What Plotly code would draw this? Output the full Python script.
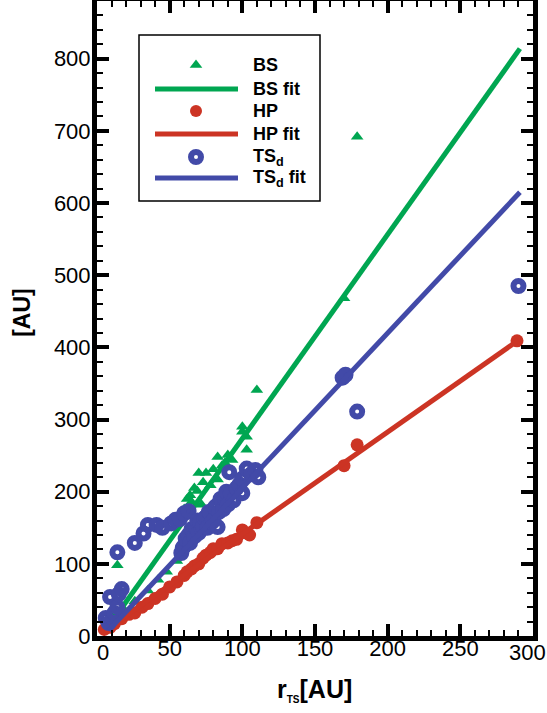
import plotly.graph_objects as go

# ---- bow shock (BS) stand-off vs. termination-shock radius ----
bs_x = [10, 14, 18, 26, 35, 42, 48, 55, 60, 62, 64, 65, 67, 69, 70, 72, 73, 75,
        78, 80, 83, 83, 86, 88, 90, 93, 100, 100, 103, 103, 110, 170, 179]
bs_y = [28, 98, 38, 48, 63, 78, 89, 104, 176, 190, 195, 186, 205, 201, 226, 182, 213, 226,
        209, 231, 248, 217, 236, 240, 251, 244, 290, 283, 276, 258, 341, 468, 692]
bs_fit_x = [10, 291]
bs_fit_y = [19, 814]

# ---- heliopause (HP) ----
hp_x = [5, 9, 12, 17, 22, 26, 31, 35, 40, 45, 50, 55, 60, 62, 65, 67, 70, 73, 75,
        78, 80, 83, 86, 90, 93, 96, 100, 102, 105, 110, 170, 179, 289]
hp_y = [9, 12, 17, 24, 30, 32, 40, 45, 52, 58, 68, 75, 84, 89, 93, 97, 100, 108, 112,
        116, 121, 121, 128, 129, 132, 134, 147, 143, 140, 157, 236, 265, 409]
hp_fit_x = [5, 290]
hp_fit_y = [7, 410]

# ---- downstream termination shock (TS_d) ----
ts_x = [6, 8, 9, 12, 14, 15, 17,
        14, 26, 32, 35, 41, 45, 51, 54, 57, 60, 63,
        58, 59, 60, 61, 62, 63, 64, 65, 66, 67, 68, 69, 70, 71, 72, 73, 74, 75, 76,
        77, 78, 79, 80, 81, 82, 83, 84, 85, 86, 87, 88, 89, 90, 92, 94, 96, 98, 100,
        91, 100, 103, 106, 109, 111,
        169, 171, 179, 290]
ts_y = [25, 18, 54, 32, 40, 58, 65,
        116, 129, 142, 154, 154, 150, 156, 161, 162, 170, 173,
        115, 122, 125, 135, 132, 140, 129, 148, 145, 138, 150, 160, 143, 158, 148, 152, 163, 165,
        150, 172, 170, 158, 160, 178, 180, 151, 172, 190, 185, 176, 190, 200, 182, 198, 188,
        205, 210, 198,
        227, 218, 232, 224, 230, 220,
        358, 362, 311, 485]
ts_fit_x = [8, 291]
ts_fit_y = [8, 615]

# x tick labels; the two end labels are set separately, pulled in from the frame corners
x_tickvals = [0, 50, 100, 150, 200, 250, 300]
x_ticktext = ["", "50", "100", "150", "200", "250", ""]
x_end_labels = [(0, "0", 6), (300, "300", -6)]

GREEN = "rgb(0,166,81)"
RED = "rgb(204,52,36)"
BLUE = "rgb(66,74,168)"

fig = go.Figure()

fig.add_trace(go.Scatter(x=bs_x, y=bs_y, mode="markers", name="BS",
                         marker=dict(symbol="triangle-up", size=11, color=GREEN)))
fig.add_trace(go.Scatter(x=bs_fit_x, y=bs_fit_y, mode="lines", name="BS fit",
                         line=dict(color=GREEN, width=5)))
fig.add_trace(go.Scatter(x=hp_x, y=hp_y, mode="markers", name="HP",
                         marker=dict(symbol="circle", size=13, color=RED)))
fig.add_trace(go.Scatter(x=hp_fit_x, y=hp_fit_y, mode="lines", name="HP fit",
                         line=dict(color=RED, width=5)))
fig.add_trace(go.Scatter(x=ts_x, y=ts_y, mode="markers", name="TS<sub>d</sub>",
                         marker=dict(symbol="circle-open", size=10, color=BLUE,
                                     line=dict(color=BLUE, width=6))))
fig.add_trace(go.Scatter(x=ts_fit_x, y=ts_fit_y, mode="lines", name="TS<sub>d</sub> fit",
                         line=dict(color=BLUE, width=5)))

# ---- boxed key, laid out on a pixel-unit overlay axis ----
key_rows = [
    ("<b>BS</b>", "marker", dict(symbol="triangle-up", size=11, color=GREEN), None, 64),
    ("<b>BS fit</b>", "line", None, GREEN, 88),
    ("<b>HP</b>", "marker", dict(symbol="circle", size=12, color=RED), None, 110),
    ("<b>HP fit</b>", "line", None, RED, 133),
    ("<b>TS<sub>d</sub></b>", "marker",
     dict(symbol="circle-open", size=10, color=BLUE, line=dict(color=BLUE, width=6)), None, 156),
    ("<b>TS<sub>d</sub> fit</b>", "line", None, BLUE, 177),
]
annotations = []
for label, kind, mk, lc, yy in key_rows:
    if kind == "marker":
        fig.add_trace(go.Scatter(x=[99], y=[yy], mode="markers", marker=mk,
                                 xaxis="x2", yaxis="y2", hoverinfo="skip"))
    else:
        fig.add_trace(go.Scatter(x=[58, 141], y=[yy, yy], mode="lines",
                                 line=dict(color=lc, width=5),
                                 xaxis="x2", yaxis="y2", hoverinfo="skip"))
    annotations.append(dict(text=label, x=154, y=yy, xref="x2", yref="y2",
                            xanchor="left", yanchor="middle", showarrow=False,
                            font=dict(size=18, color="black")))

for xv, txt, shift in x_end_labels:
    annotations.append(dict(text=txt, x=xv, y=0, xref="x", yref="paper",
                            xanchor="center", yanchor="top", xshift=shift, yshift=-2,
                            showarrow=False, font=dict(size=22, color="black")))

annotations.append(dict(text="<b>[AU]</b>", textangle=-90, xref="paper", yref="paper",
                        x=-0.172, y=0.509, xanchor="center", yanchor="middle",
                        showarrow=False, font=dict(size=23, color="black")))
annotations.append(dict(text="<b>r<sub><span style='font-size:10px'>TS</span></sub>[AU]</b>",
                        xref="paper", yref="paper", x=0.498, y=-0.085,
                        xanchor="center", yanchor="middle", showarrow=False,
                        font=dict(size=25, color="black")))

axis_common = dict(showline=True, linewidth=5, linecolor="black", mirror="allticks",
                   ticks="inside", ticklen=12, tickwidth=4, tickcolor="black",
                   showgrid=False, zeroline=False,
                   automargin=False, tickfont=dict(size=22, color="black"))

fig.update_layout(
    width=547, height=713,
    margin=dict(l=97, r=14, t=1, b=77),
    plot_bgcolor="white", paper_bgcolor="white",
    showlegend=False,
    font=dict(family="Liberation Sans, Arial, sans-serif", color="black"),
    xaxis=dict(range=[0, 300], tickmode="array", tickvals=x_tickvals, ticktext=x_ticktext,
               ticklabelstandoff=-11,
               minor=dict(ticks="inside", ticklen=6, tickwidth=1.5, tickcolor="black",
                          tickmode="linear", tick0=0, dtick=10),
               **axis_common),
    yaxis=dict(range=[0, 880], tick0=0, dtick=100, ticklabelstandoff=-3,
               minor=dict(ticks="inside", ticklen=6, tickwidth=1.5, tickcolor="black", dtick=20),
               **axis_common),
    xaxis2=dict(overlaying="x", range=[0, 436], visible=False, fixedrange=True),
    yaxis2=dict(overlaying="y", range=[635, 0], visible=False, fixedrange=True),
    shapes=[dict(type="rect", xref="x2", yref="y2", x0=42, x1=223, y0=34, y1=200,
                 line=dict(color="black", width=1.5))],
    annotations=annotations,
)

fig.write_html("out.html")
